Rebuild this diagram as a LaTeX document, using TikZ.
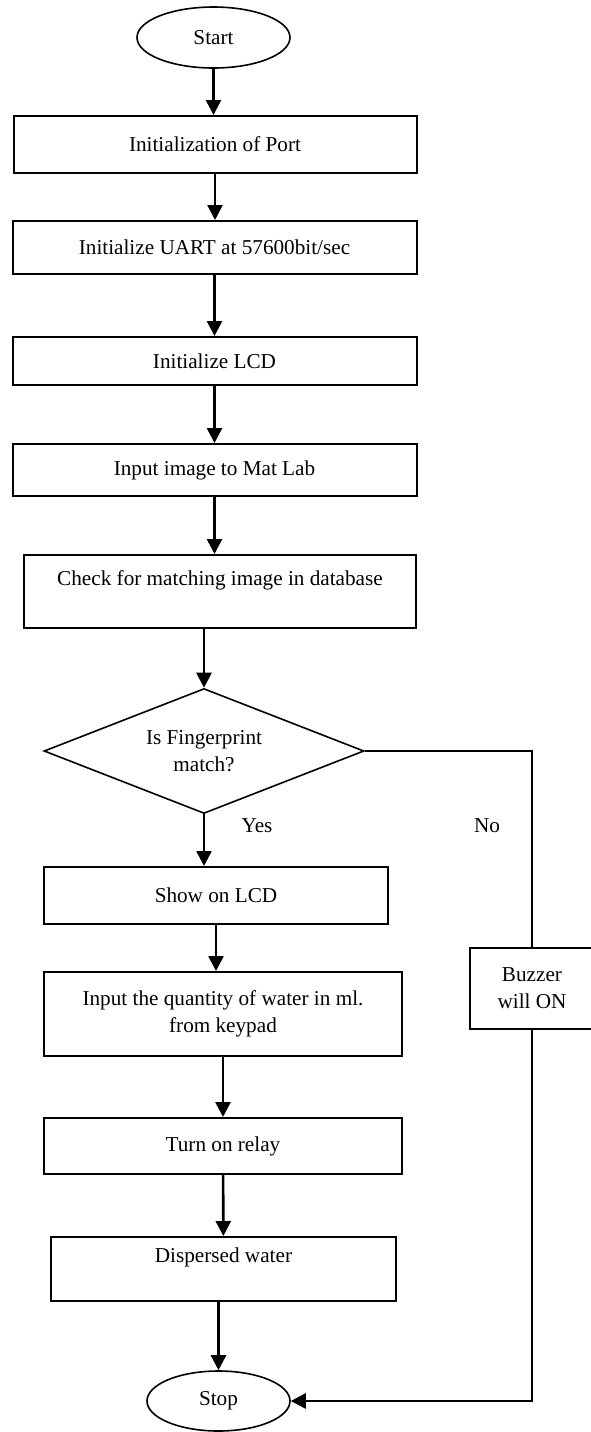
\documentclass[tikz,border=0pt]{standalone}
\usepackage{fontspec}
\setmainfont{Liberation Serif}
\usetikzlibrary{arrows.meta, shapes.geometric}

\begin{document}
\begin{tikzpicture}[
            x=0.5pt, y=-0.5pt,
            >={Triangle[length=7.5pt, width=7.5pt]},
            font=\fontsize{10.6pt}{13.5pt}\selectfont,
            terminal/.style={draw, ellipse, line width=0.8pt, inner sep=0pt},
            process/.style={draw, rectangle, line width=1pt, align=center, inner sep=0pt},
            decision/.style={draw, diamond, line width=0.8pt, aspect=2.56, align=center, inner sep=0pt,
                minimum width=160pt, minimum height=62.5pt},
            flow/.style={->, line width=1.3pt},
            branch/.style={line width=0.9pt}
        ]

        \useasboundingbox (0,0) rectangle (590,1432);

        % ======================================
        % Main column
        % ======================================
        \node[terminal, minimum width=76.5pt, minimum height=30.5pt] (start) at (213.5,37.5) {Start};

        \node[process, minimum width=201.5pt, minimum height=28.5pt] (port) at (215,144.5) {Initialization of Port};
        \node[process, minimum width=202pt, minimum height=26.5pt] (uart) at (214.5,247.5) {Initialize UART at 57600bit/sec};
        \node[process, minimum width=202pt, minimum height=24pt] (lcd) at (214.5,361) {Initialize LCD};
        \node[process, minimum width=202pt, minimum height=26pt] (matlab) at (214.5,470) {Input image to Mat Lab};
        \node[process, minimum width=195.75pt, minimum height=36.5pt] (check) at (220,591.5) {Check for matching image in database\\~};

        \node[decision] (match) at (204,751) {Is Fingerprint\\match?};
        \node (yes) at (257,826) {Yes};
        \node (no) at (487,826) {No};

        \node[process, minimum width=172pt, minimum height=28.5pt] (show) at (216,895.5) {Show on LCD};
        \node[process, minimum width=179pt, minimum height=42pt] (quantity) at (223,1014) {Input the quantity of water in ml.\\from keypad};
        \node[process, minimum width=179pt, minimum height=28pt] (relay) at (223,1146) {Turn on relay};
        \node[process, minimum width=172.5pt, minimum height=32pt] (water) at (223.5,1269) {Dispersed water\\~};

        \node[terminal, minimum width=71.5pt, minimum height=30pt] (stop) at (218.5,1401) {Stop};

        % ======================================
        % No branch
        % ======================================
        \node[process, minimum width=62pt, minimum height=40.5pt] (buzzer) at (532,988.5) {Buzzer\\will ON};

        % ======================================
        % Connections
        % ======================================
        \draw[flow] (start) -- (start |- port.north);
        \draw[flow] (port) -- (port |- uart.north);
        \draw[flow] (uart) -- (lcd);
        \draw[flow] (lcd) -- (matlab);
        \draw[flow] (matlab) -- (matlab |- check.north);
        \draw[flow] (check.south -| match.north) -- (match.north);
        \draw[flow] (match.south) -- (match.south |- show.north);
        \draw[flow] (show.south) -- (show.south |- quantity.north);
        \draw[flow] (quantity) -- (relay);
        \draw[flow] (relay) -- (water);
        \draw[flow] (stop.north |- water.south) -- (stop.north);

        \draw[branch] (match.east) -| (buzzer.north);
        \draw[flow] (buzzer.south) |- (stop.east);

\end{tikzpicture}
\end{document}
